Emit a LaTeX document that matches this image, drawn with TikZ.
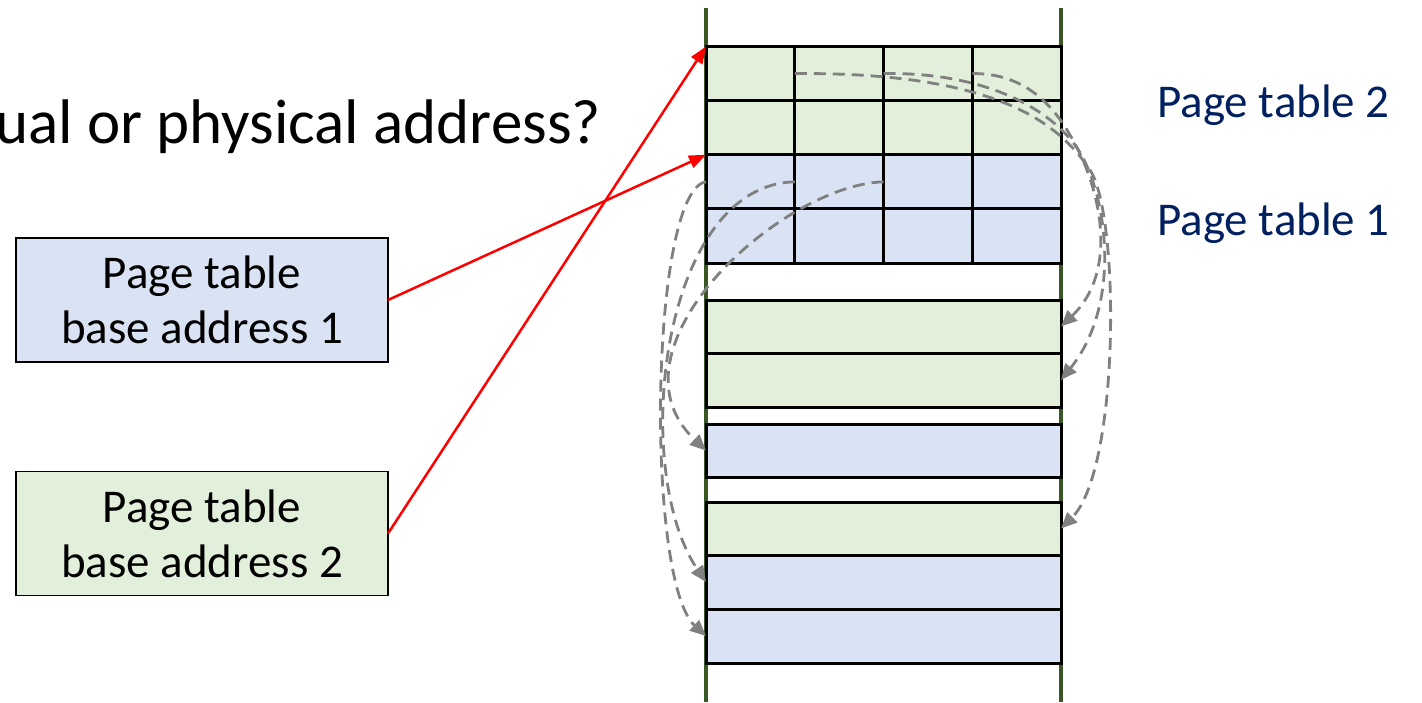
\documentclass[tikz,border=0pt]{standalone}
\usepackage{fontspec}
\setmainfont{Carlito}
\usetikzlibrary{arrows.meta}
\definecolor{pgreen}{RGB}{226,239,218}
\definecolor{pblue}{RGB}{218,227,243}
\definecolor{dgreen}{RGB}{56,87,35}
\definecolor{navytext}{RGB}{0,32,96}
\definecolor{dgray}{RGB}{128,128,128}
\begin{document}
\begin{tikzpicture}[x=1pt,y=-1pt,
  cell/.style={draw=black,line width=3pt,inner sep=0pt,outer sep=0pt,minimum width=88.75pt,minimum height=54.125pt},
  memrow/.style={draw=black,line width=3pt,inner sep=0pt,outer sep=0pt,minimum width=355pt},
  basebox/.style={draw=black,line width=1.8pt,inner sep=0pt,outer sep=0pt,minimum width=372pt,minimum height=124pt,align=center,font=\fontsize{47}{55}\selectfont},
  ptlabel/.style={anchor=base west,inner sep=0pt,text=navytext,font=\fontsize{47}{56}\selectfont},
  gcurve/.style={draw=dgray,line width=2.8pt,dash pattern=on 12pt off 7pt,-{Triangle[length=16pt,width=14pt]}},
  redarrow/.style={draw=red,line width=2.5pt,-{Triangle[length=17pt,width=13pt]}}
]
\useasboundingbox (0,0) rectangle (1422,702);

% title (cut at the left edge)
\node[anchor=base west,inner sep=0pt,font=\fontsize{63}{75}\selectfont] (title) at (-5,143) {ual or physical address?};

% memory boundaries
\draw[dgreen,line width=3.5pt] (706,8) -- (706,702);
\draw[dgreen,line width=3.5pt] (1061,8) -- (1061,702);

% page table cells
\foreach \r/\fc in {1/pgreen,2/pgreen,3/pblue,4/pblue}
  \foreach \c in {1,...,4}
    \node[cell,fill=\fc] (c\r\c) at ({706+88.75*(\c-0.5)},{46.5+54.125*(\r-0.5)}) {};

% memory rows
\node[memrow,fill=pgreen,minimum height=53pt] (m1) at (883.5,326.5) {};
\node[memrow,fill=pgreen,minimum height=54pt] (m2) at (883.5,380) {};
\node[memrow,fill=pblue,minimum height=53pt] (m3) at (883.5,450.5) {};
\node[memrow,fill=pgreen,minimum height=53pt] (m4) at (883.5,528.5) {};
\node[memrow,fill=pblue,minimum height=54pt] (m5) at (883.5,582) {};
\node[memrow,fill=pblue,minimum height=54pt] (m6) at (883.5,636) {};

% labels
\node[ptlabel] (pt2) at (1157,117) {Page table 2};
\node[ptlabel] (pt1) at (1157,235) {Page table 1};

% base address boxes
\node[basebox,fill=pblue] (b1) at (202,300) {Page table\\base address 1};
\node[basebox,fill=pgreen] (b2) at (202,533.5) {Page table\\base address 2};

% page table 2 pointers
\draw[gcurve] (c14.west) .. controls (1020,73) and (1050,100) .. (1070,135)
  .. controls (1100,185) and (1120,270) .. (m1.east);
\draw[gcurve] (c13.west) .. controls (980,72) and (1045,105) .. (1075,145)
  .. controls (1105,185) and (1125,300) .. (m2.east);
\draw[gcurve] (c12.west) .. controls (1000,72) and (1060,125) .. (1090,170)
  .. controls (1120,215) and (1120,470) .. (m4.east);

% page table 1 pointers
\draw[gcurve] (c31.west) .. controls (650,190) and (645,580) .. (m6.west);
\draw[gcurve] (c32.west) .. controls (660,185) and (630,470) .. (m5.west);
\draw[gcurve] (c33.west) .. controls (780,185) and (600,350) .. (m3.west);

% base address arrows
\draw[redarrow] (b1.east) -- (c31.north west);
\draw[redarrow] (b2.east) -- (c11.north west);
\end{tikzpicture}
\end{document}
